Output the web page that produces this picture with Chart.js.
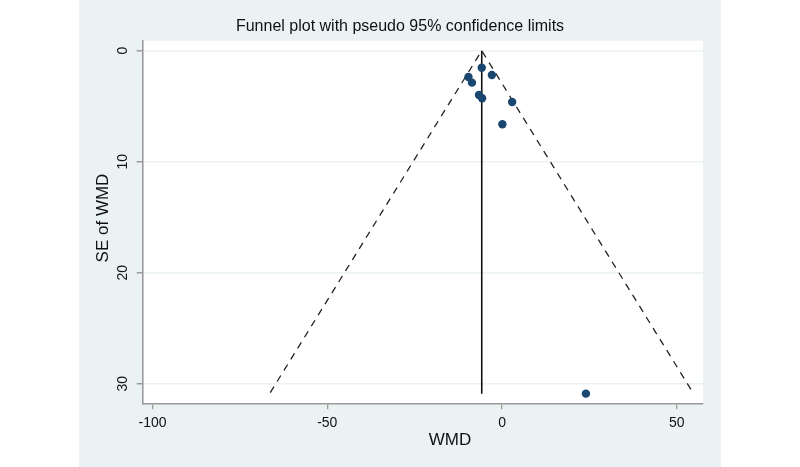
<!DOCTYPE html>
<html>
<head>
<meta charset="utf-8">
<script src="https://cdn.jsdelivr.net/npm/chart.js@4.4.0/dist/chart.umd.min.js"></script>
<style>
  html, body { margin: 0; padding: 0; background: #ffffff; }
  #wrap { width: 800px; height: 467px; }
</style>
</head>
<body>
<div id="wrap"><canvas id="funnel" width="800" height="467"></canvas></div>
<script>
// study estimates
const wmd = [-5.8, -2.9, -9.6, -8.6, -6.6, -5.7, 2.9, 0.1, 24.0];
const se = [1.53, 2.19, 2.37, 2.88, 3.99, 4.29, 4.62, 6.63, 30.9];

// pooled estimate and pseudo 95% limits
const pooledX = [-5.8, -5.8];
const pooledY = [0, 30.9];
const funnelX = [-66.3, -5.8, 54.6];
const funnelY = [30.8, 0, 30.8];

const xTicks = [-100, -50, 0, 50];
const yTicks = [0, 10, 20, 30];

const titleText = "Funnel plot with pseudo 95% confidence limits";
const xTitle = "WMD";
const yTitle = "SE of WMD";

const FONT = "'Liberation Sans', Arial, sans-serif";
const panelBg = "#eaf2f3";

const toPoints = (xs, ys) => xs.map((x, i) => ({ x: x, y: ys[i] }));

// background panel, plot area and the texts Stata places
const stataLook = {
  id: "stataLook",
  beforeDraw(chart) {
    const { ctx, chartArea } = chart;
    ctx.save();
    ctx.fillStyle = panelBg;
    ctx.fillRect(79, 0, 642, chart.height);
    ctx.fillStyle = "#ffffff";
    ctx.fillRect(chartArea.left, chartArea.top, chartArea.right - chartArea.left, chartArea.bottom - chartArea.top);
    ctx.restore();
  },
  afterDraw(chart) {
    const { ctx } = chart;
    const yScale = chart.scales.y;
    ctx.save();
    ctx.fillStyle = "#111111";
    ctx.textAlign = "center";
    ctx.textBaseline = "middle";

    ctx.font = "16px " + FONT;
    ctx.fillText(titleText, 400, 27);

    ctx.font = "17px " + FONT;
    ctx.fillText(xTitle, 450, 440);

    ctx.save();
    ctx.translate(103, 218);
    ctx.rotate(-Math.PI / 2);
    ctx.fillText(yTitle, 0, 0);
    ctx.restore();

    ctx.font = "14px " + FONT;
    yTicks.forEach(v => {
      ctx.save();
      ctx.translate(123, yScale.getPixelForValue(v));
      ctx.rotate(-Math.PI / 2);
      ctx.fillText(String(v), 0, 0);
      ctx.restore();
    });
    ctx.restore();
  }
};

new Chart(document.getElementById("funnel"), {
  type: "scatter",
  data: {
    datasets: [
      {
        label: "Studies",
        data: toPoints(wmd, se),
        backgroundColor: "#1a476f",
        borderColor: "#1a476f",
        pointRadius: 4.2,
        pointBorderWidth: 0,
        showLine: false
      },
      {
        label: "Pooled",
        data: toPoints(pooledX, pooledY),
        showLine: true,
        borderColor: "#111111",
        borderWidth: 1.6,
        pointRadius: 0,
        fill: false
      },
      {
        label: "Pseudo 95% CI",
        data: toPoints(funnelX, funnelY),
        showLine: true,
        borderColor: "#222222",
        borderWidth: 1.3,
        borderDash: [7, 6],
        pointRadius: 0,
        fill: false,
        tension: 0
      }
    ]
  },
  options: {
    responsive: false,
    animation: false,
    layout: { padding: { left: 79, right: 97, top: 40.7, bottom: 0 } },
    plugins: {
      legend: { display: false },
      tooltip: { enabled: false },
      title: { display: false }
    },
    scales: {
      x: {
        type: "linear",
        min: -102.8,
        max: 57.5,
        afterBuildTicks: axis => { axis.ticks = xTicks.map(v => ({ value: v })); },
        afterFit: axis => { axis.height = 63.7; },
        grid: {
          drawOnChartArea: false,
          tickLength: 6,
          tickColor: "#9a9a9a",
          lineWidth: 1.3
        },
        border: { color: "#9a9a9a", width: 1.6 },
        ticks: {
          color: "#111111",
          font: { family: FONT, size: 14 },
          padding: 5.5,
          maxRotation: 0
        }
      },
      y: {
        type: "linear",
        reverse: true,
        min: -0.9,
        max: 31.77,
        afterBuildTicks: axis => { axis.ticks = yTicks.map(v => ({ value: v })); },
        afterFit: axis => { axis.width = 63.7; },
        grid: {
          color: panelBg,
          lineWidth: 1.5,
          tickLength: 6,
          tickColor: "#9a9a9a"
        },
        border: { color: "#9a9a9a", width: 1.6 },
        ticks: {
          color: "rgba(0,0,0,0)",
          font: { family: FONT, size: 14 }
        }
      }
    }
  },
  plugins: [stataLook]
});
</script>
</body>
</html>
